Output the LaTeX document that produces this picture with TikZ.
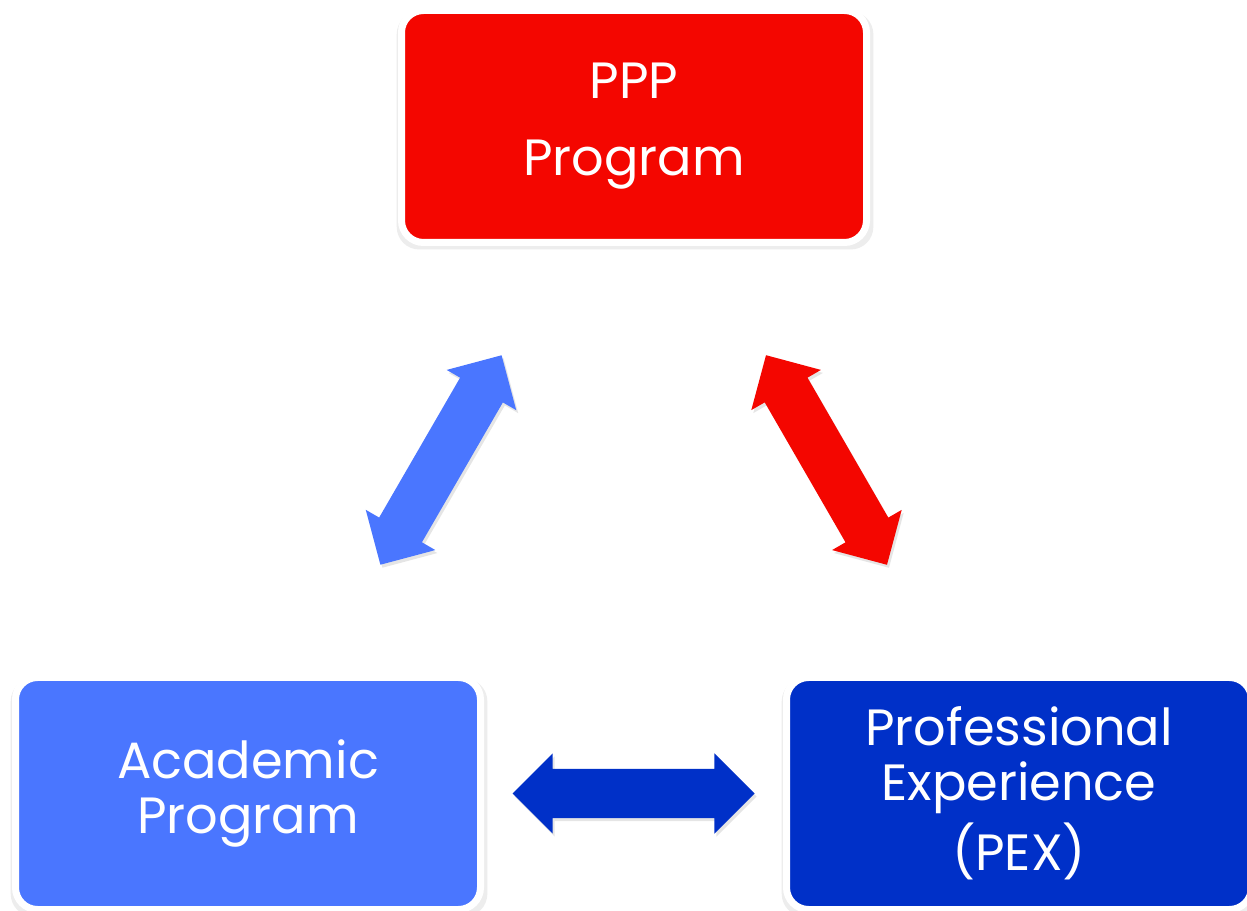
\documentclass[tikz,border=0pt]{standalone}
\usepackage{fontspec}
\setmainfont{Poppins}
\usetikzlibrary{shadows,shapes.arrows}
\definecolor{pppred}{HTML}{F40600}
\definecolor{acadblue}{HTML}{4A76FF}
\definecolor{pexblue}{HTML}{0030C8}
\tikzset{
  box/.style={rectangle, rounded corners=22pt, draw=white, line width=7pt,
    minimum width=465pt, minimum height=232pt, text=white, align=center,
    font=\fontsize{51}{55}\selectfont, inner sep=0pt,
    drop shadow={opacity=0.14, shadow xshift=1pt, shadow yshift=-4pt,
      shadow scale=1.025}},
  blockarrow/.style={double arrow, double arrow tip angle=90,
    minimum height=242pt, minimum width=80pt, double arrow head extend=15.5pt,
    inner xsep=0pt, inner ysep=24.5pt, draw=none, sloped, pos=0.5,
    drop shadow={opacity=0.2, shadow xshift=2pt, shadow yshift=-3pt}}
}
\begin{document}
\begin{tikzpicture}[x=1pt,y=1pt]
\useasboundingbox (0,0) rectangle (1247,910);
\fill[white] (0,0) rectangle (1247,910);
\node[box, fill=pppred] (ppp) at (634,783.5) {PPP\\[22pt]Program};
\node[box, fill=acadblue] (acad) at (248,116.5) {Academic\\Program};
\node[box, fill=pexblue] (pex) at (1019,116.5) {Professional\\Experience\\[8pt](PEX)};
\path (acad.center) -- node[blockarrow, fill=acadblue] (a1) {} (ppp.center);
\path (pex.center) -- node[blockarrow, fill=pppred] (a2) {} (ppp.center);
\path (acad.center) -- node[blockarrow, fill=pexblue] (a3) {} (pex.center);
\end{tikzpicture}
\end{document}
